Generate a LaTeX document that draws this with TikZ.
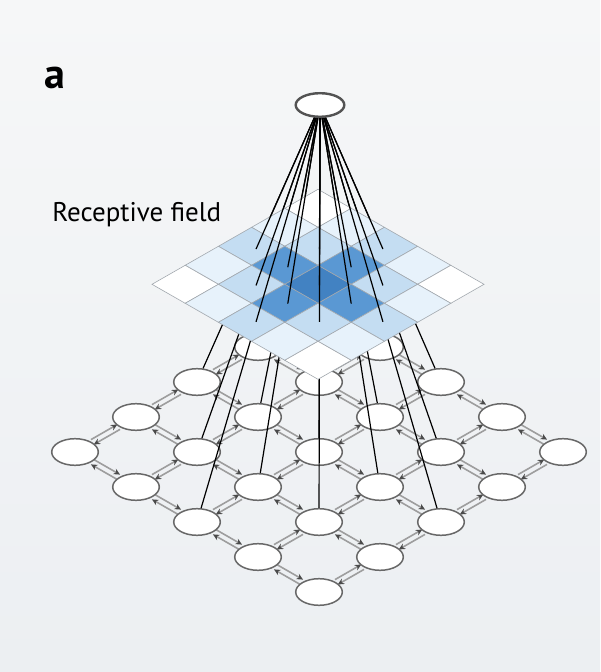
\documentclass[tikz,border=0pt]{standalone}
\usepackage{fontspec}
\setmainfont{PT Sans}
\usetikzlibrary{shapes.geometric,arrows.meta,calc}
\pgfdeclarelayer{bg}
\pgfdeclarelayer{links}
\pgfsetlayers{bg,links,main}
\definecolor{bgtop}{HTML}{F6F7F8}
\definecolor{bgbot}{HTML}{ECEFF2}
\definecolor{rfcore}{HTML}{4282C2}
\definecolor{rfnear}{HTML}{5A98D3}
\definecolor{rfmid}{HTML}{C4DDF2}
\definecolor{rfedge}{HTML}{E7F2FB}
\definecolor{gridgray}{HTML}{A2A8AE}
\definecolor{linkgray}{HTML}{9E9E9E}
\definecolor{tipgray}{HTML}{4A4A4A}
\definecolor{rimgray}{HTML}{686868}
\tikzset{
  unit/.style={ellipse, draw=rimgray, line width=0.75pt, fill=white,
    minimum width=23.3pt, minimum height=13.3pt, inner sep=0pt},
  apexunit/.style={unit, draw=rimgray!80!black, line width=1.2pt,
    minimum width=24.3pt, minimum height=11.8pt},
  link/.style={draw=linkgray, line width=0.8pt, shorten <=10pt, shorten >=10pt,
    -{Stealth[length=3.2pt,width=3pt,color=tipgray]}},
  cell/.style={draw=gridgray, line width=0.3pt},
  wire/.style={black, line width=0.6pt},
}
% two opposite links between neighbouring units
\newcommand\duplex[2]{%
  \draw[link] ($(#1)!1.4pt!90:(#2)$) -- ($(#2)!1.4pt!-90:(#1)$);
  \draw[link] ($(#2)!1.4pt!90:(#1)$) -- ($(#1)!1.4pt!-90:(#2)$);}
\begin{document}
\begin{tikzpicture}[x=0.5pt,y=-0.5pt]
  \begin{pgfonlayer}{bg}
    \shade[top color=bgtop,bottom color=bgbot] (0,0) rectangle (600,672);
  \end{pgfonlayer}
  \useasboundingbox (0,0) rectangle (600,672);

  % lattice of units
  \foreach \i in {0,...,4}
    \foreach \j in {0,...,4}
      \node[unit] (n-\i-\j) at ({319+61*(\i-\j)},{452+35*(\i+\j-4)}) {};
  \begin{pgfonlayer}{links}
    \foreach \i in {0,...,4}
      \foreach \j in {0,...,3}{
        \pgfmathtruncatemacro\jj{\j+1}
        \duplex{n-\i-\j}{n-\i-\jj}
        \duplex{n-\j-\i}{n-\jj-\i}
      }
  \end{pgfonlayer}

  % wires from the top unit (lower part)
  \coordinate (hub) at (320,105);
  \foreach \i/\j in {0/2,1/1,1/2,1/3,2/0,2/1,2/2,2/3,2/4,3/1,3/2,3/3,4/2}
    \draw[wire] (hub) -- (n-\i-\j);

  % receptive field
  \begin{scope}[shift={(318,189.3)},x={(16.6pt,-9.5pt)},y={(-16.6pt,-9.5pt)}]
    \foreach \p in {0,...,4}
      \foreach \q in {0,...,4}{
        \pgfmathtruncatemacro\dd{(\p-2)*(\p-2)+(\q-2)*(\q-2)}
        \ifcase\dd \def\tone{rfcore}\or\def\tone{rfnear}\or\def\tone{rfmid}\or
          \def\tone{white}\or\def\tone{rfmid}\or\def\tone{rfedge}\else\def\tone{white}\fi
        \filldraw[cell,fill=\tone] (\p,\q) -- ++(1,0) -- ++(0,1) -- ++(-1,0) -- cycle;
      }
  \end{scope}

  % wires above the field
  \foreach \i/\j in {0/2,1/1,1/2,1/3,2/0,2/1,2/2,2/3,2/4,3/1,3/2,3/3,4/2}{
    \coordinate (w-\i-\j) at ($(hub)!0.52!(n-\i-\j)$);
    \draw[wire] (hub) -- (w-\i-\j);
  }
  \node[apexunit] (apex) at (hub) {};

  \node[font=\fontsize{21}{24}\selectfont\bfseries] (tag) at (54.5,78) {a};
  \node[font=\fontsize{13.5}{16}\selectfont,anchor=base west,inner sep=0pt] (rflabel)
    at (52,221.7) {Receptive field};
\end{tikzpicture}
\end{document}
